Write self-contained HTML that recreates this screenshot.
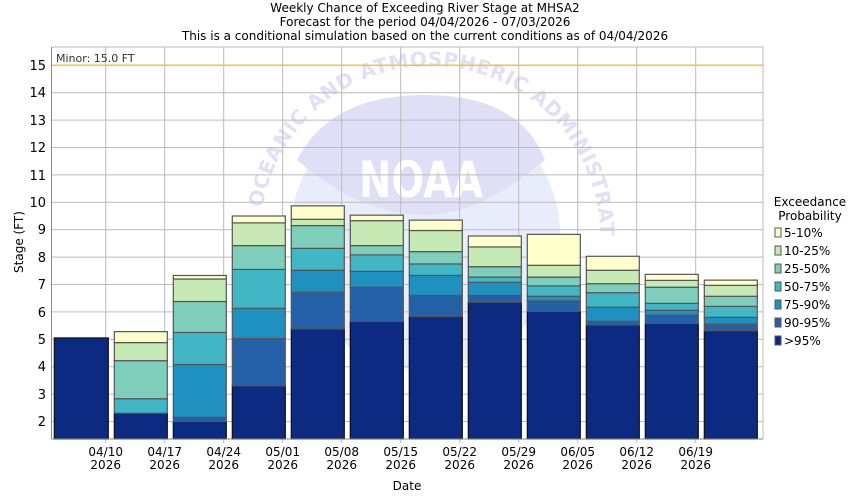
<!DOCTYPE html>
<html><head><meta charset="utf-8"><style>body{margin:0;background:#fff}svg{display:block}text{font-family:"DejaVu Sans","Liberation Sans",sans-serif}</style></head><body>
<svg width="850" height="500" viewBox="0 0 850 500" xmlns="http://www.w3.org/2000/svg">
<rect width="850" height="500" fill="#fff"/>
<g font-size="12" text-anchor="middle" fill="#000">
<text x="425" y="12">Weekly Chance of Exceeding River Stage at MHSA2</text>
<text x="425" y="26">Forecast for the period 04/04/2026 - 07/03/2026</text>
<text x="425" y="40">This is a conditional simulation based on the current conditions as of 04/04/2026</text>
</g>
<!-- watermark -->
<g>
<circle cx="425" cy="235" r="135" fill="#e8edfc"/>
<path d="M297,160 Q330,95 425,95 Q520,95 545,160 Q480,215 425,215 Q360,215 297,160Z" fill="#dfdff8"/>
<path id="arc" d="M262,262 A170,170 0 1 1 598,262" fill="none"/>
<text font-size="20" font-weight="bold" fill="#e0e0f8"><textPath href="#arc" textLength="560" lengthAdjust="spacing">NAL OCEANIC AND ATMOSPHERIC ADMINISTRAT</textPath></text>
<text x="421" y="197" font-size="50" font-weight="bold" fill="#fff" text-anchor="middle" textLength="124" lengthAdjust="spacingAndGlyphs">NOAA</text>
</g>
<!-- grid -->
<g stroke="#bbb" stroke-width="1">
<line x1="52" y1="92.7" x2="763" y2="92.7"/><line x1="52" y1="120.1" x2="763" y2="120.1"/><line x1="52" y1="147.5" x2="763" y2="147.5"/><line x1="52" y1="174.9" x2="763" y2="174.9"/><line x1="52" y1="202.3" x2="763" y2="202.3"/><line x1="52" y1="229.7" x2="763" y2="229.7"/><line x1="52" y1="257.1" x2="763" y2="257.1"/><line x1="52" y1="284.5" x2="763" y2="284.5"/><line x1="52" y1="311.9" x2="763" y2="311.9"/><line x1="52" y1="339.3" x2="763" y2="339.3"/><line x1="52" y1="366.7" x2="763" y2="366.7"/><line x1="52" y1="394.1" x2="763" y2="394.1"/><line x1="52" y1="421.5" x2="763" y2="421.5"/>
<line x1="105.7" y1="47" x2="105.7" y2="443"/><line x1="164.7" y1="47" x2="164.7" y2="443"/><line x1="223.7" y1="47" x2="223.7" y2="443"/><line x1="282.7" y1="47" x2="282.7" y2="443"/><line x1="341.7" y1="47" x2="341.7" y2="443"/><line x1="400.7" y1="47" x2="400.7" y2="443"/><line x1="459.7" y1="47" x2="459.7" y2="443"/><line x1="518.7" y1="47" x2="518.7" y2="443"/><line x1="577.7" y1="47" x2="577.7" y2="443"/><line x1="636.7" y1="47" x2="636.7" y2="443"/><line x1="695.7" y1="47" x2="695.7" y2="443"/><line x1="763" y1="47" x2="763" y2="439"/><line x1="52" y1="47" x2="763" y2="47"/>
</g>
<line x1="52" y1="65.3" x2="763" y2="65.3" stroke="#f0c43c" stroke-width="1.5"/>
<text x="56" y="62" font-size="11" fill="#333">Minor: 15.0 FT</text>
<g stroke-width="1.2" stroke="#555">
<rect x="54.3" y="337.93" width="54" height="101.1" fill="#0c2a82" stroke="#111"/>

<rect x="114.3" y="413.28" width="53" height="25.7" fill="#0c2a82" stroke="#111"/>
<rect x="114.3" y="398.76" width="53" height="14.52" fill="#41b6c4"/>
<rect x="114.3" y="360.67" width="53" height="38.09" fill="#7fcdbb"/>
<rect x="114.3" y="342.59" width="53" height="18.08" fill="#c7e9b4"/>
<rect x="114.3" y="331.63" width="53" height="10.96" fill="#ffffcc"/>

<rect x="173.3" y="421.5" width="53" height="17.5" fill="#0c2a82" stroke="#111"/>
<rect x="173.3" y="417.39" width="53" height="4.11" fill="#2460a8"/>
<rect x="173.3" y="364.51" width="53" height="52.88" fill="#1f91c1"/>
<rect x="173.3" y="332.45" width="53" height="32.06" fill="#41b6c4"/>
<rect x="173.3" y="301.49" width="53" height="30.96" fill="#7fcdbb"/>
<rect x="173.3" y="279.02" width="53" height="22.47" fill="#c7e9b4"/>
<rect x="173.3" y="275.46" width="53" height="3.56" fill="#ffffcc"/>

<rect x="232.3" y="385.88" width="53" height="53.12" fill="#0c2a82" stroke="#111"/>
<rect x="232.3" y="338.48" width="53" height="47.4" fill="#2460a8"/>
<rect x="232.3" y="308.34" width="53" height="30.14" fill="#1f91c1"/>
<rect x="232.3" y="269.43" width="53" height="38.91" fill="#41b6c4"/>
<rect x="232.3" y="245.59" width="53" height="23.84" fill="#7fcdbb"/>
<rect x="232.3" y="222.85" width="53" height="22.74" fill="#c7e9b4"/>
<rect x="232.3" y="216.0" width="53" height="6.85" fill="#ffffcc"/>

<rect x="291.3" y="328.89" width="53" height="110.11" fill="#0c2a82" stroke="#111"/>
<rect x="291.3" y="292.17" width="53" height="36.72" fill="#2460a8"/>
<rect x="291.3" y="270.25" width="53" height="21.92" fill="#1f91c1"/>
<rect x="291.3" y="248.34" width="53" height="21.91" fill="#41b6c4"/>
<rect x="291.3" y="225.59" width="53" height="22.75" fill="#7fcdbb"/>
<rect x="291.3" y="219.29" width="53" height="6.3" fill="#c7e9b4"/>
<rect x="291.3" y="205.86" width="53" height="13.43" fill="#ffffcc"/>

<rect x="350.3" y="321.49" width="53" height="117.51" fill="#0c2a82" stroke="#111"/>
<rect x="350.3" y="287.24" width="53" height="34.25" fill="#2460a8"/>
<rect x="350.3" y="271.35" width="53" height="15.89" fill="#1f91c1"/>
<rect x="350.3" y="254.86" width="53" height="16.49" fill="#41b6c4"/>
<rect x="350.3" y="245.59" width="53" height="9.27" fill="#7fcdbb"/>
<rect x="350.3" y="220.66" width="53" height="24.93" fill="#c7e9b4"/>
<rect x="350.3" y="215.18" width="53" height="5.48" fill="#ffffcc"/>

<rect x="409.3" y="316.56" width="53" height="122.44" fill="#0c2a82" stroke="#111"/>
<rect x="409.3" y="295.46" width="53" height="21.1" fill="#2460a8"/>
<rect x="409.3" y="275.46" width="53" height="20.0" fill="#1f91c1"/>
<rect x="409.3" y="263.95" width="53" height="11.51" fill="#41b6c4"/>
<rect x="409.3" y="251.62" width="53" height="12.33" fill="#7fcdbb"/>
<rect x="409.3" y="230.52" width="53" height="21.1" fill="#c7e9b4"/>
<rect x="409.3" y="220.11" width="53" height="10.41" fill="#ffffcc"/>

<rect x="468.3" y="302.31" width="53" height="136.69" fill="#0c2a82" stroke="#111"/>
<rect x="468.3" y="295.46" width="53" height="6.85" fill="#2460a8"/>
<rect x="468.3" y="282.31" width="53" height="13.15" fill="#1f91c1"/>
<rect x="468.3" y="277.1" width="53" height="5.21" fill="#41b6c4"/>
<rect x="468.3" y="266.69" width="53" height="10.41" fill="#7fcdbb"/>
<rect x="468.3" y="246.96" width="53" height="19.73" fill="#c7e9b4"/>
<rect x="468.3" y="236.0" width="53" height="10.96" fill="#ffffcc"/>

<rect x="527.3" y="311.35" width="53" height="127.65" fill="#0c2a82" stroke="#111"/>
<rect x="527.3" y="300.94" width="53" height="10.41" fill="#2460a8"/>
<rect x="527.3" y="296.28" width="53" height="4.66" fill="#1f91c1"/>
<rect x="527.3" y="285.87" width="53" height="10.41" fill="#41b6c4"/>
<rect x="527.3" y="277.1" width="53" height="8.77" fill="#7fcdbb"/>
<rect x="527.3" y="265.32" width="53" height="11.78" fill="#c7e9b4"/>
<rect x="527.3" y="234.36" width="53" height="30.96" fill="#ffffcc"/>

<rect x="586.3" y="325.05" width="53" height="113.95" fill="#0c2a82" stroke="#111"/>
<rect x="586.3" y="321.22" width="53" height="3.83" fill="#2460a8"/>
<rect x="586.3" y="307.24" width="53" height="13.98" fill="#1f91c1"/>
<rect x="586.3" y="292.72" width="53" height="14.52" fill="#41b6c4"/>
<rect x="586.3" y="283.68" width="53" height="9.04" fill="#7fcdbb"/>
<rect x="586.3" y="270.25" width="53" height="13.43" fill="#c7e9b4"/>
<rect x="586.3" y="256.28" width="53" height="13.97" fill="#ffffcc"/>

<rect x="645.3" y="323.41" width="53" height="115.59" fill="#0c2a82" stroke="#111"/>
<rect x="645.3" y="315.19" width="53" height="8.22" fill="#2460a8"/>
<rect x="645.3" y="310.26" width="53" height="4.93" fill="#1f91c1"/>
<rect x="645.3" y="303.41" width="53" height="6.85" fill="#41b6c4"/>
<rect x="645.3" y="287.24" width="53" height="16.17" fill="#7fcdbb"/>
<rect x="645.3" y="280.39" width="53" height="6.85" fill="#c7e9b4"/>
<rect x="645.3" y="274.36" width="53" height="6.03" fill="#ffffcc"/>

<rect x="704.3" y="330.81" width="53" height="108.19" fill="#0c2a82" stroke="#111"/>
<rect x="704.3" y="324.23" width="53" height="6.58" fill="#2460a8"/>
<rect x="704.3" y="317.38" width="53" height="6.85" fill="#1f91c1"/>
<rect x="704.3" y="306.42" width="53" height="10.96" fill="#41b6c4"/>
<rect x="704.3" y="296.28" width="53" height="10.14" fill="#7fcdbb"/>
<rect x="704.3" y="285.34" width="53" height="10.94" fill="#c7e9b4"/>
<rect x="704.3" y="280.12" width="53" height="5.22" fill="#ffffcc"/>
</g>
<line x1="51.5" y1="47" x2="51.5" y2="439" stroke="#888"/>
<line x1="51.5" y1="439" x2="763" y2="439" stroke="#888"/>
<g font-size="13" text-anchor="end" fill="#000">
<text x="46" y="70">15</text><text x="46" y="97">14</text><text x="46" y="125">13</text><text x="46" y="152">12</text><text x="46" y="180">11</text><text x="46" y="207">10</text><text x="46" y="234">9</text><text x="46" y="262">8</text><text x="46" y="289">7</text><text x="46" y="317">6</text><text x="46" y="344">5</text><text x="46" y="371">4</text><text x="46" y="399">3</text><text x="46" y="426">2</text>
</g>
<text transform="translate(23,242) rotate(-90)" font-size="12" text-anchor="middle">Stage (FT)</text>
<g font-size="12" text-anchor="middle">
<text x="105.7" y="456">04/10</text><text x="105.7" y="469">2026</text>
<text x="164.7" y="456">04/17</text><text x="164.7" y="469">2026</text>
<text x="223.7" y="456">04/24</text><text x="223.7" y="469">2026</text>
<text x="282.7" y="456">05/01</text><text x="282.7" y="469">2026</text>
<text x="341.7" y="456">05/08</text><text x="341.7" y="469">2026</text>
<text x="400.7" y="456">05/15</text><text x="400.7" y="469">2026</text>
<text x="459.7" y="456">05/22</text><text x="459.7" y="469">2026</text>
<text x="518.7" y="456">05/29</text><text x="518.7" y="469">2026</text>
<text x="577.7" y="456">06/05</text><text x="577.7" y="469">2026</text>
<text x="636.7" y="456">06/12</text><text x="636.7" y="469">2026</text>
<text x="695.7" y="456">06/19</text><text x="695.7" y="469">2026</text>
</g>
<text x="407" y="490" font-size="12" text-anchor="middle">Date</text>
<g font-size="12">
<text x="810" y="206" text-anchor="middle">Exceedance</text>
<text x="810" y="220" text-anchor="middle">Probability</text>
<g stroke="#555">
<rect x="775" y="228" width="6" height="9" fill="#ffffcc"/>
<rect x="775" y="246" width="6" height="9" fill="#c7e9b4"/>
<rect x="775" y="264" width="6" height="9" fill="#7fcdbb"/>
<rect x="775" y="282" width="6" height="9" fill="#41b6c4"/>
<rect x="775" y="300" width="6" height="9" fill="#1f91c1"/>
<rect x="775" y="318" width="6" height="9" fill="#2460a8"/>
<rect x="775" y="336" width="6" height="9" fill="#0c2a82"/>
</g>
<text x="784" y="237">5-10%</text>
<text x="784" y="255">10-25%</text>
<text x="784" y="273">25-50%</text>
<text x="784" y="291">50-75%</text>
<text x="784" y="309">75-90%</text>
<text x="784" y="327">90-95%</text>
<text x="784" y="345">&gt;95%</text>
</g>
</svg>
</body></html>
